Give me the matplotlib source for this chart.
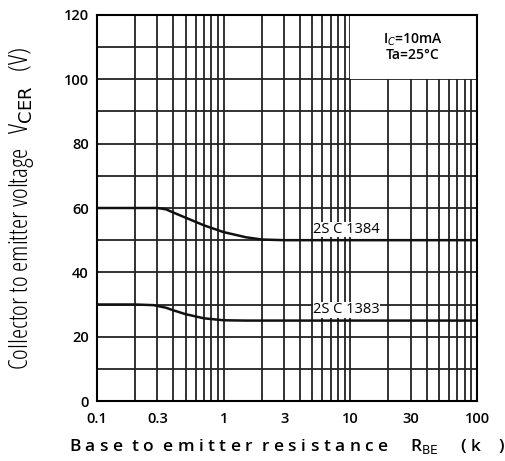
import numpy as np
import matplotlib.pyplot as plt
from matplotlib.patches import Rectangle

# data
rbe_1384 = [0.1, 0.2, 0.3, 0.35, 0.4, 0.5, 0.7, 1.0, 1.5, 2.0, 3.0, 10, 100]
vcer_1384 = [60, 60, 60, 59.6, 58.6, 57.0, 54.6, 52.5, 50.9, 50.2, 50, 50, 50]
rbe_1383 = [0.1, 0.2, 0.28, 0.35, 0.4, 0.5, 0.7, 1.0, 1.5, 2.0, 10, 100]
vcer_1383 = [30, 30, 29.8, 29.0, 28.2, 27.0, 25.7, 25.1, 25, 25, 25, 25]
x_ticks = [0.1, 0.3, 1, 3, 10, 30, 100]
x_tick_labels = ["0.1", "0.3", "1", "3", "10", "30", "100"]
y_ticks = [0, 20, 40, 60, 80, 100, 120]

plt.rcParams['font.family'] = ['Open Sans', 'DejaVu Sans']

fig = plt.figure(figsize=(5.06, 4.61), dpi=100)
ax = fig.add_axes([97 / 506, 60 / 461, 380 / 506, 386 / 461])
ax.set_xscale("log")
ax.set_xlim(0.1, 100)
ax.set_ylim(0, 120)

# grid: every 1..9 per decade, every 10 V
gx = [m * 10.0 ** e for e in range(-1, 2) for m in range(1, 10)] + [100]
for v in gx:
    ax.axvline(v, color="#222222", lw=1.3, zorder=1)
for v in range(10, 120, 10):
    ax.axhline(v, color="#222222", lw=1.3, zorder=1)

# white box for conditions
ax.add_patch(Rectangle((10, 100), 90, 20, facecolor="white",
                       edgecolor="none", zorder=2))
ax.text(31, 110, "I$_C$=10mA\nTa=25\u00b0C", ha="center", va="center",
        fontsize=10, zorder=3, linespacing=1.0, fontweight="semibold")

ax.plot(rbe_1384, vcer_1384, color="#111111", lw=1.8, zorder=4)
ax.plot(rbe_1383, vcer_1383, color="#111111", lw=1.8, zorder=4)

ax.text(9.3, 53.3, "2S C 1384", ha="center", va="center", fontsize=10.5,
        zorder=5, bbox=dict(facecolor="white", edgecolor="none", pad=0.3))
ax.text(9.3, 28.3, "2S C 1383", ha="center", va="center", fontsize=10.5,
        zorder=5, bbox=dict(facecolor="white", edgecolor="none", pad=0.3))

ax.set_xticks(x_ticks)
ax.set_xticklabels(x_tick_labels)
ax.xaxis.set_minor_locator(plt.NullLocator())
ax.set_yticks(y_ticks)
ax.tick_params(length=0, labelsize=10.5)
ax.tick_params(axis="x", pad=8)
ax.tick_params(axis="y", pad=6)
for lab in ax.get_xticklabels() + ax.get_yticklabels():
    lab.set_fontweight("semibold")
for s in ax.spines.values():
    s.set_linewidth(1.5)
    s.set_zorder(6)

ax.set_xlabel("B a s e  t o  e m i t t e r  r e s i s t a n c e     R$_{\\mathrm{BE}}$     ( k    )",
              fontsize=12.5, labelpad=8, fontweight="semibold")
ax.set_ylabel("Collector to emitter voltage   V$_{\\mathrm{CER}}$   (V)",
              fontsize=18.5, fontstretch="condensed")
ax.yaxis.set_label_coords(-0.16, 0.5)

fig.savefig("out.png", dpi=100)
